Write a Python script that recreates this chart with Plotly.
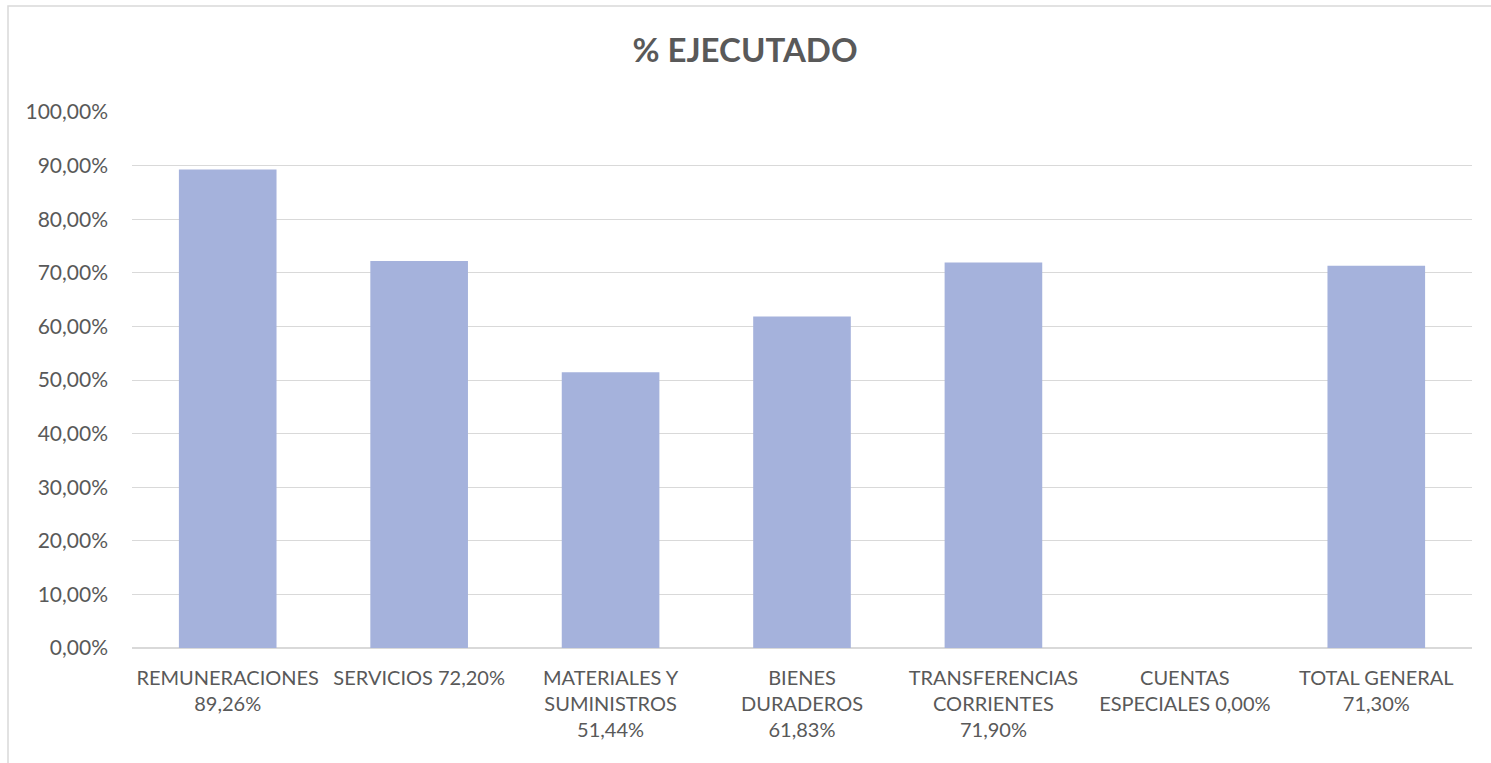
import plotly.graph_objects as go

categories = ["REMUNERACIONES", "SERVICIOS", "MATERIALES Y SUMINISTROS", "BIENES DURADEROS",
              "TRANSFERENCIAS CORRIENTES", "CUENTAS ESPECIALES", "TOTAL GENERAL"]
values = [0.8926, 0.7220, 0.5144, 0.6183, 0.7190, 0.0, 0.7130]
tick_labels = ["REMUNERACIONES<br>89,26%", "SERVICIOS 72,20%", "MATERIALES Y<br>SUMINISTROS<br>51,44%",
               "BIENES<br>DURADEROS<br>61,83%", "TRANSFERENCIAS<br>CORRIENTES<br>71,90%",
               "CUENTAS<br>ESPECIALES 0,00%", "TOTAL GENERAL<br>71,30%"]

W, H = 1491, 763
L, R, T, B = 132, 19, 112, 115
pw, ph = W - L - R, H - T - B

FONT = "Lato, Carlito, Calibri, Liberation Sans, Arial"

fig = go.Figure()
fig.add_trace(go.Bar(
    x=categories, y=values,
    marker=dict(color="#a5b2dc", line=dict(width=0)),
    width=0.51,
    hoverinfo="skip",
))

fig.update_layout(
    width=W, height=H,
    margin=dict(l=L, r=R, t=T, b=B),
    paper_bgcolor="white", plot_bgcolor="white",
    separators=",.",
    showlegend=False,
    font=dict(family=FONT, color="#595959", size=20),
    title=dict(text="<b>% EJECUTADO</b>", x=(745 - L) / pw, xref="paper", xanchor="center",
               y=1 - 50 / H, yanchor="middle",
               font=dict(size=33, color="#595959", family=FONT)),
    xaxis=dict(tickmode="array", tickvals=categories, ticktext=tick_labels,
               showgrid=False, zeroline=False, showline=False, ticks="",
               tickfont=dict(size=20, color="#595959"), tickangle=0, ticklabelstandoff=16),
    yaxis=dict(range=[0, 1.0], dtick=0.1, tickformat=".2%", showgrid=True,
               gridcolor="#d9d9d9", gridwidth=1, zeroline=True, zerolinecolor="#d9d9d9",
               showline=False, ticks="", tickfont=dict(size=21, color="#595959"),
               ticklabelstandoff=23),
)

# chart border (Excel chart area)
fig.add_shape(type="rect", xref="paper", yref="paper",
              x0=(8 - L) / pw, x1=(W + 20 - L) / pw,
              y0=-(B + 20) / ph, y1=(H - B - 6) / ph,
              line=dict(color="#d9d9d9", width=1.5), fillcolor="rgba(0,0,0,0)", layer="below")

fig.write_html("out.html", config={"displayModeBar": False},
               post_script="document.body.style.margin='0';document.body.style.overflow='hidden';")
